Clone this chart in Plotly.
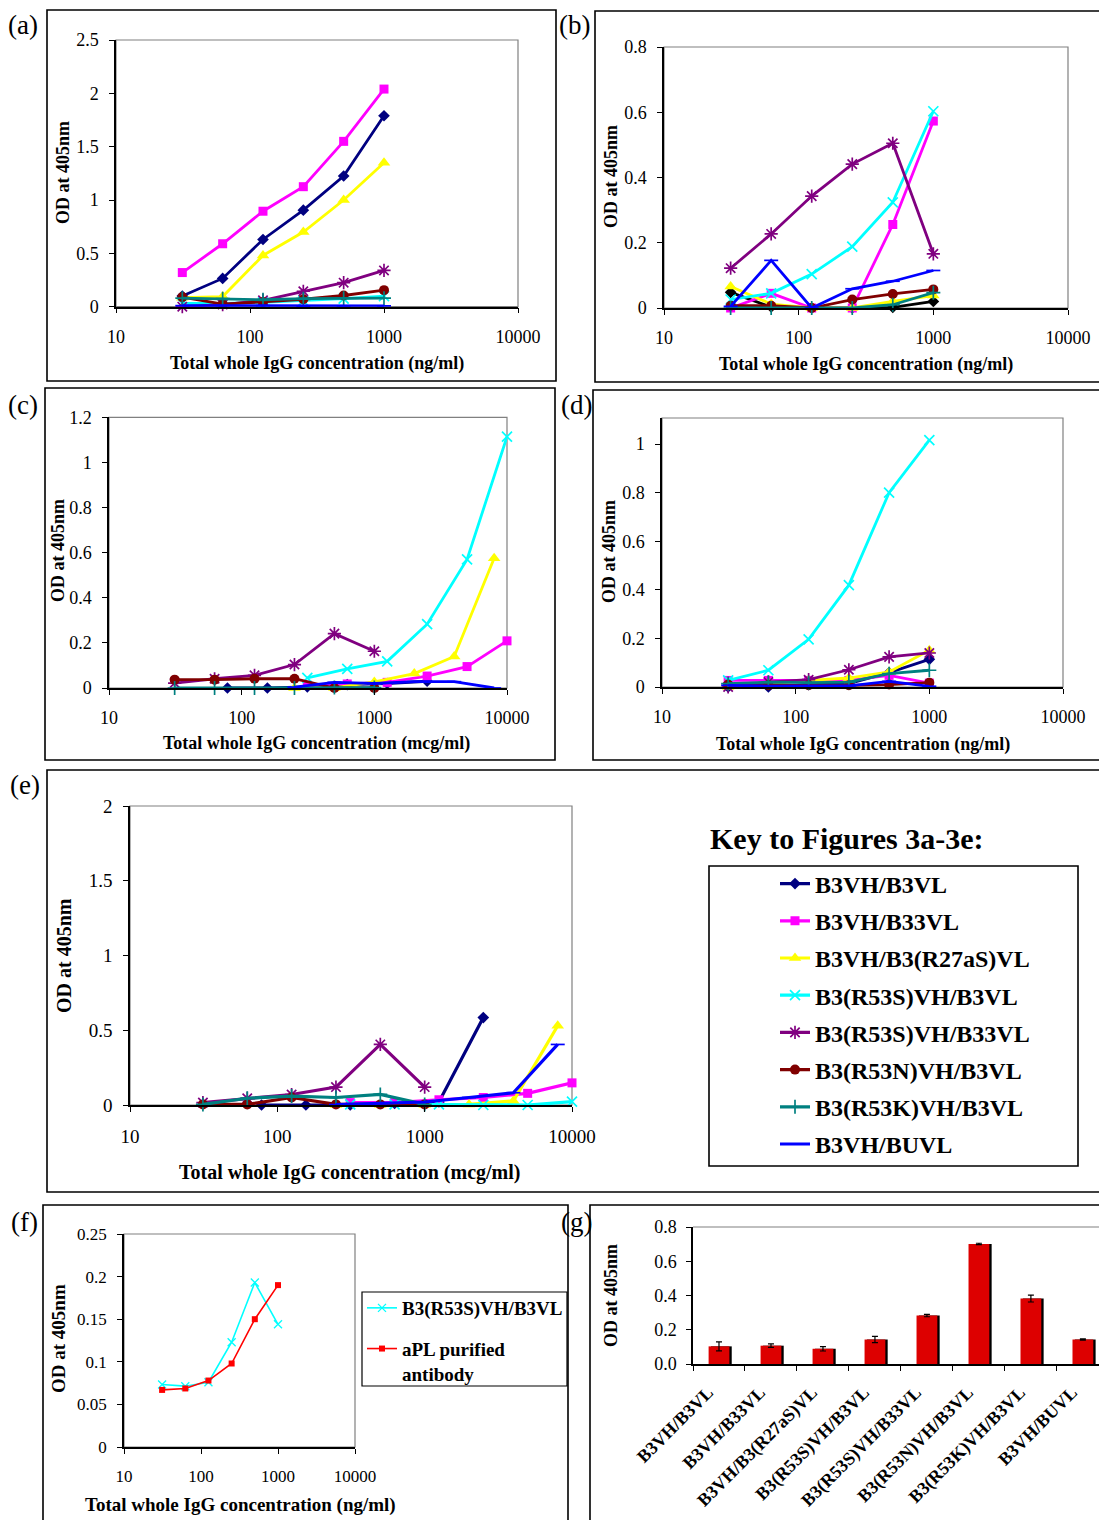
import plotly.graph_objects as go

W, H = 1099, 1520
SERIF = "Liberation Serif"

# ---------------- data ----------------
SERIES = ["B3VH/B3VL", "B3VH/B33VL", "B3VH/B3(R27aS)VL", "B3(R53S)VH/B3VL",
          "B3(R53S)VH/B33VL", "B3(R53N)VH/B3VL", "B3(R53K)VH/B3VL", "B3VH/BUVL"]

X_TICKS = [10, 100, 1000, 10000]
X_TICK_TEXT = ["10", "100", "1000", "10000"]

DIL = [31.25, 62.5, 125, 250, 500, 1000]
X_NAVY_CE = [78.125, 156.25, 312.5, 625, 1250, 2500]
X_HIGH = [312.5, 625, 1250, 2500, 5000, 10000]
X_MID = [250, 500, 1000, 2000, 4000, 8000]

A_Y = [
    [0.10, 0.265, 0.63, 0.905, 1.225, 1.79],
    [0.32, 0.59, 0.895, 1.125, 1.55, 2.04],
    [0.085, 0.095, 0.48, 0.70, 1.0, 1.35],
    [0.03, 0.03, 0.04, 0.055, 0.075, 0.10],
    [0.0, 0.02, 0.06, 0.145, 0.225, 0.34],
    [0.09, 0.025, 0.045, 0.07, 0.105, 0.155],
    [0.08, 0.075, 0.065, 0.075, 0.08, 0.08],
    [0.01, 0.01, 0.01, 0.005, 0.008, 0.008],
]
B_Y = [
    [0.048, 0.003, 0.0, 0.0, 0.002, 0.02],
    [0.0, 0.045, 0.0, 0.0, 0.256, 0.573],
    [0.066, 0.012, 0.0, 0.0, 0.02, 0.038],
    [0.026, 0.045, 0.104, 0.188, 0.324, 0.603],
    [0.122, 0.227, 0.343, 0.441, 0.505, 0.166],
    [0.007, 0.007, 0.0, 0.026, 0.043, 0.057],
    [0.0, 0.0, 0.0, 0.0, 0.01, 0.047],
    [0.005, 0.146, 0.0, 0.059, 0.082, 0.115],
]
C_X = [X_NAVY_CE, X_HIGH, X_MID, X_HIGH, DIL, DIL, DIL, X_MID]
C_Y = [
    [0.0, 0.0, 0.005, 0.015, 0.02, 0.03],
    [0.012, 0.018, 0.025, 0.053, 0.095, 0.209],
    [0.0, 0.0, 0.027, 0.064, 0.14, 0.575],
    [0.045, 0.085, 0.118, 0.283, 0.57, 1.114],
    [0.022, 0.041, 0.056, 0.104, 0.241, 0.163],
    [0.037, 0.037, 0.041, 0.041, 0.0, 0.0],
    [0.0, 0.0, 0.0, 0.0, 0.002, 0.002],
    [0.004, 0.025, 0.02, 0.028, 0.028, 0.0],
]
D_Y = [
    [0.0, 0.0, 0.01, 0.014, 0.059, 0.114],
    [0.027, 0.027, 0.027, 0.027, 0.048, 0.016],
    [0.0, 0.014, 0.027, 0.037, 0.062, 0.151],
    [0.027, 0.069, 0.196, 0.419, 0.80, 1.016],
    [0.0, 0.02, 0.03, 0.071, 0.124, 0.14],
    [0.01, 0.007, 0.007, 0.007, 0.01, 0.018],
    [0.014, 0.02, 0.018, 0.02, 0.055, 0.069],
    [0.007, 0.004, 0.005, 0.005, 0.023, 0.003],
]
E_X = [X_NAVY_CE, X_HIGH, X_MID, X_HIGH, DIL, DIL, DIL, X_MID]
E_Y = [
    [0.0, 0.0, 0.0, 0.01, 0.02, 0.585],
    [0.016, 0.016, 0.035, 0.05, 0.078, 0.148],
    [0.0, 0.0, 0.0, 0.004, 0.027, 0.53],
    [0.004, 0.004, 0.004, 0.0, 0.0, 0.022],
    [0.016, 0.045, 0.07, 0.12, 0.405, 0.12],
    [0.004, 0.004, 0.05, 0.004, 0.004, 0.004],
    [0.004, 0.045, 0.06, 0.05, 0.071, 0.004],
    [0.003, 0.01, 0.02, 0.05, 0.082, 0.405],
]
F_NAMES = ["B3(R53S)VH/B3VL", "aPL purified<br>antibody"]
F_CYAN = [0.0734, 0.0714, 0.076, 0.123, 0.193, 0.144]
F_RED = [0.067, 0.0687, 0.078, 0.098, 0.15, 0.19]

G_LABELS = SERIES
G_VALUES = [0.103, 0.107, 0.089, 0.143, 0.283, 0.701, 0.382, 0.143]
G_ERR = [0.026, 0.01, 0.013, 0.018, 0.007, 0.004, 0.02, 0.004]

# ---------------- styles ----------------
COLORS = ["#000080", "#FF00FF", "#FFFF00", "#00FFFF", "#800080", "#800000", "#008080", "#0000FF"]
SYMBOLS = ["diamond", "square", "triangle-up", "x-thin-open", "asterisk-open",
           "circle", "cross-thin-open", "line-ew-open"]
SIZES = [9, 9, 11, 10, 11, 10, 10, 10]
OPEN = [False, False, False, True, True, False, True, True]


def fx(p):
    return p / W


def fy(p):
    return 1 - p / H


fig = go.Figure()

PANELS = {
    "a": dict(ax="", box=(116, 518, 40, 306.7), ymax=2.5, dtick=0.5, tf=18, lw=2.8),
    "b": dict(ax="2", box=(664, 1068, 47, 308), ymax=0.8, dtick=0.2, tf=18, lw=2.8),
    "c": dict(ax="3", box=(109, 507, 417.3, 688), ymax=1.2, dtick=0.2, tf=18, lw=2.8),
    "d": dict(ax="4", box=(662, 1063, 418, 687), ymax=1.107, dtick=0.2, tf=18, lw=2.8),
    "e": dict(ax="5", box=(130, 572, 806, 1105), ymax=2.0, dtick=0.5, tf=19, lw=3.2),
    "f": dict(ax="6", box=(124, 355, 1234, 1447), ymax=0.25, dtick=0.05, tf=17, lw=1.6),
}


def add_series(panel, xs_list, ys_list, show_legend=False, color_override=None):
    ax = PANELS[panel]["ax"]
    lw = PANELS[panel]["lw"]
    for i, name in enumerate(SERIES):
        col = COLORS[i]
        if color_override and i in color_override:
            col = color_override[i]
        xs = xs_list[i] if isinstance(xs_list[0], list) else xs_list
        fig.add_trace(go.Scatter(
            x=xs, y=ys_list[i], name=name, mode="lines+markers",
            xaxis="x" + ax, yaxis="y" + ax,
            line=dict(color=col, width=lw),
            marker=dict(symbol=SYMBOLS[i], size=SIZES[i], color=col,
                        line=dict(color=col, width=1.7 if OPEN[i] else 0)),
            cliponaxis=False, legendgroup=name, showlegend=show_legend,
            legend="legend",
        ))


add_series("a", DIL, A_Y)
add_series("b", DIL, B_Y, color_override={0: "#000000"})
add_series("c", C_X, C_Y)
add_series("d", DIL, D_Y)
add_series("e", E_X, E_Y, show_legend=True)

# panel f
fig.add_trace(go.Scatter(
    x=DIL, y=F_CYAN, name=F_NAMES[0], mode="lines+markers", xaxis="x6", yaxis="y6",
    line=dict(color="#00FFFF", width=1.6),
    marker=dict(symbol="x-thin-open", size=8, color="#00FFFF", line=dict(color="#00FFFF", width=1.3)),
    cliponaxis=False, legend="legend2", legendgroup="f1"))
fig.add_trace(go.Scatter(
    x=DIL, y=F_RED, name=F_NAMES[1], mode="lines+markers", xaxis="x6", yaxis="y6",
    line=dict(color="#FF0000", width=1.6),
    marker=dict(symbol="square", size=6, color="#FF0000"),
    cliponaxis=False, legend="legend2", legendgroup="f2"))

# panel g bars (shadow + red)
fig.add_trace(go.Bar(
    x=G_LABELS, y=G_VALUES, xaxis="x7", yaxis="y7", width=0.4, offset=-0.155,
    marker=dict(color="#000000", line=dict(width=0)), showlegend=False, hoverinfo="skip"))
fig.add_trace(go.Bar(
    x=G_LABELS, y=G_VALUES, xaxis="x7", yaxis="y7", width=0.4, offset=-0.2,
    marker=dict(color="#DD0000", line=dict(width=0)), showlegend=False,
    error_y=dict(type="data", array=G_ERR, color="black", thickness=1.2, width=3)))

layout = dict(
    width=W, height=H, autosize=False,
    margin=dict(l=0, r=0, t=0, b=0, pad=0, autoexpand=False),
    paper_bgcolor="white", plot_bgcolor="white",
    barmode="overlay", font=dict(family=SERIF, color="black"),
)

shapes = []
for key, p in PANELS.items():
    ax = p["ax"]
    x0, x1, yt, yb = p["box"]
    xn, yn = "xaxis" + ax, "yaxis" + ax
    layout[xn] = dict(
        domain=[fx(x0), fx(x1)], anchor="y" + ax, type="log", range=[1, 4],
        tickvals=X_TICKS, ticktext=X_TICK_TEXT, ticks="outside", ticklen=5,
        tickcolor="black", showline=True, linecolor="black", linewidth=1.5,
        showgrid=False, zeroline=False, automargin=False,
        tickfont=dict(family=SERIF, size=p["tf"], color="black"),
        ticklabelstandoff=8, fixedrange=True)
    layout[yn] = dict(
        domain=[fy(yb), fy(yt)], anchor="x" + ax, range=[0, p["ymax"]],
        tick0=0, dtick=p["dtick"], ticks="outside", ticklen=5, tickcolor="black",
        showline=True, linecolor="black", linewidth=1.5, showgrid=False,
        zeroline=False, automargin=False,
        tickfont=dict(family=SERIF, size=p["tf"], color="black"),
        ticklabelstandoff=7, fixedrange=True)
    shapes.append(dict(type="rect", xref="x%s domain" % ax, yref="y%s domain" % ax,
                       x0=0, x1=1, y0=0, y1=1, line=dict(color="#808080", width=1.2),
                       layer="below"))

# panel g axes
layout["xaxis7"] = dict(
    domain=[fx(693), 1], anchor="y7", type="category", categoryarray=G_LABELS,
    categoryorder="array", range=[-0.5, 7.31], tickson="boundaries", ticks="outside",
    ticklen=5, tickcolor="black", showline=True, linecolor="black", linewidth=1.5,
    showgrid=False, zeroline=False, tickangle=-45, automargin=False,
    ticklabelstandoff=9, ticklabelshift=-11,
    tickfont=dict(family=SERIF, size=18, color="black", weight="bold"), fixedrange=True)
layout["yaxis7"] = dict(
    domain=[fy(1364), fy(1227)], anchor="x7", range=[0, 0.8], tick0=0, dtick=0.2,
    tickformat=".1f", ticks="outside", ticklen=5, tickcolor="black", showline=True,
    linecolor="black", linewidth=1.5, showgrid=False, zeroline=False, automargin=False,
    tickfont=dict(family=SERIF, size=18, color="black"), ticklabelstandoff=6, fixedrange=True)
shapes.append(dict(type="line", xref="x7 domain", yref="y7 domain", x0=0, x1=1, y0=1, y1=1,
                   line=dict(color="#808080", width=1.2), layer="below"))

# panel frames
FRAMES = [(47, 10, 556, 381), (595, 11, 1104, 382), (45, 388, 555, 760),
          (593, 390, 1104, 760), (47, 770, 1104, 1192), (43, 1205, 568, 1526),
          (590, 1205, 1104, 1526)]
for (l, t, r, b) in FRAMES:
    shapes.append(dict(type="rect", xref="paper", yref="paper", x0=fx(l), x1=fx(r),
                       y0=fy(b), y1=fy(t), line=dict(color="black", width=1.6)))
shapes.append(dict(type="rect", xref="paper", yref="paper", x0=fx(709), x1=fx(1078),
                   y0=fy(1166), y1=fy(866), line=dict(color="black", width=1.6)))
shapes.append(dict(type="rect", xref="paper", yref="paper", x0=fx(362), x1=fx(567),
                   y0=fy(1386), y1=fy(1292), line=dict(color="black", width=1.2)))
layout["shapes"] = shapes

ann = []
for lab, x, y in [("(a)", 23, 25), ("(b)", 575, 25), ("(c)", 23, 405), ("(d)", 576, 405),
                  ("(e)", 25, 785), ("(f)", 24, 1222), ("(g)", 576, 1222)]:
    ann.append(dict(text=lab, x=fx(x), y=fy(y), xref="paper", yref="paper",
                    showarrow=False, xanchor="center", yanchor="middle",
                    font=dict(family=SERIF, size=27, color="black")))

XT_NG = "Total whole IgG concentration (ng/ml)"
XT_MCG = "Total whole IgG concentration (mcg/ml)"
YT = "OD at 405nm"
for txt, x, y, size in [(XT_NG, 317, 363, 18), (XT_NG, 866, 365, 18), (XT_MCG, 316, 743, 18),
                        (XT_NG, 863, 744, 18), (XT_MCG, 349, 1172, 20), (XT_NG, 240, 1505, 19)]:
    ann.append(dict(text=txt, x=fx(x), y=fy(y), xref="paper", yref="paper", showarrow=False,
                    xanchor="center", yanchor="middle",
                    font=dict(family=SERIF, size=size, color="black", weight="bold")))
for x, y, size in [(63, 173, 18), (611, 177, 18), (58, 551, 18), (609, 552, 18),
                   (64, 956, 20), (58, 1339, 19), (611, 1296, 18)]:
    ann.append(dict(text=YT, x=fx(x), y=fy(y), xref="paper", yref="paper", showarrow=False,
                    textangle=-90, xanchor="center", yanchor="middle",
                    font=dict(family=SERIF, size=size, color="black", weight="bold")))
ann.append(dict(text="Key to Figures 3a-3e:", x=fx(708), y=fy(838), xref="paper", yref="paper",
                showarrow=False, xanchor="left", yanchor="middle",
                font=dict(family=SERIF, size=30, color="black", weight="bold")))
layout["annotations"] = ann

layout["legend"] = dict(
    x=fx(775), y=fy(861.5), xanchor="left", yanchor="top", bgcolor="rgba(0,0,0,0)",
    borderwidth=0, traceorder="grouped", tracegroupgap=3,
    font=dict(family=SERIF, size=24, color="black", weight="bold"))
layout["legend2"] = dict(
    x=fx(362), y=fy(1289), xanchor="left", yanchor="top", bgcolor="rgba(0,0,0,0)",
    borderwidth=0, traceorder="grouped", tracegroupgap=13, valign="top",
    font=dict(family=SERIF, size=19, color="black", weight="bold"))

fig.update_layout(**layout)
fig.write_html("out.html", config={"displayModeBar": False},
               post_script="document.body.style.margin='0';document.body.style.overflow='hidden';")
